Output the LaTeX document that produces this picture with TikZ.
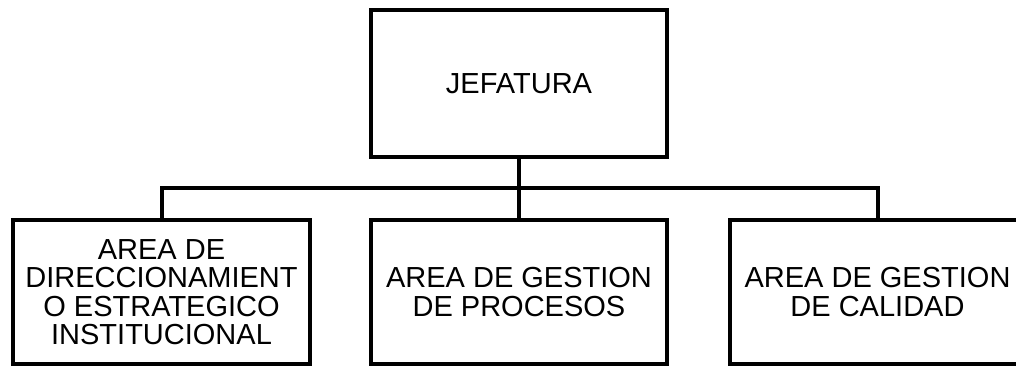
\documentclass[tikz,border=0pt]{standalone}
\usepackage{fontspec}
\setmainfont{Liberation Sans}
\usetikzlibrary{positioning}

\tikzset{
  unit/.style={draw,line width=4pt,inner sep=0pt,align=center,
    minimum width=296pt,font=\fontsize{29}{28.5}\selectfont},
  link/.style={line width=4pt}
}

\begin{document}
\begin{tikzpicture}[x=1pt,y=1pt]
\clip (0,0) rectangle (1016,366);
\node[unit,minimum height=147pt,name=n0] at (519,282.5) {JEFATURA};
\node[unit,minimum height=144pt,minimum width=297pt,name=n10] at (161.5,74) {AREA DE\\DIRECCIONAMIENT\\O ESTRATEGICO\\INSTITUCIONAL};
\node[unit,minimum height=144pt,name=n11] at (519,74) {AREA DE GESTION\\DE PROCESOS};
\node[unit,minimum height=144pt,minimum width=295pt,name=n12] at (877.5,74) {AREA DE GESTION\\DE CALIDAD};
\coordinate (bar) at (519,178);
\draw[link] (n0.south) -- (bar);
\draw[link] (bar) -| (n10.north);
\draw[link] (bar) -- (n11.north);
\draw[link] (bar) -| (n12.north);
\end{tikzpicture}
\end{document}
